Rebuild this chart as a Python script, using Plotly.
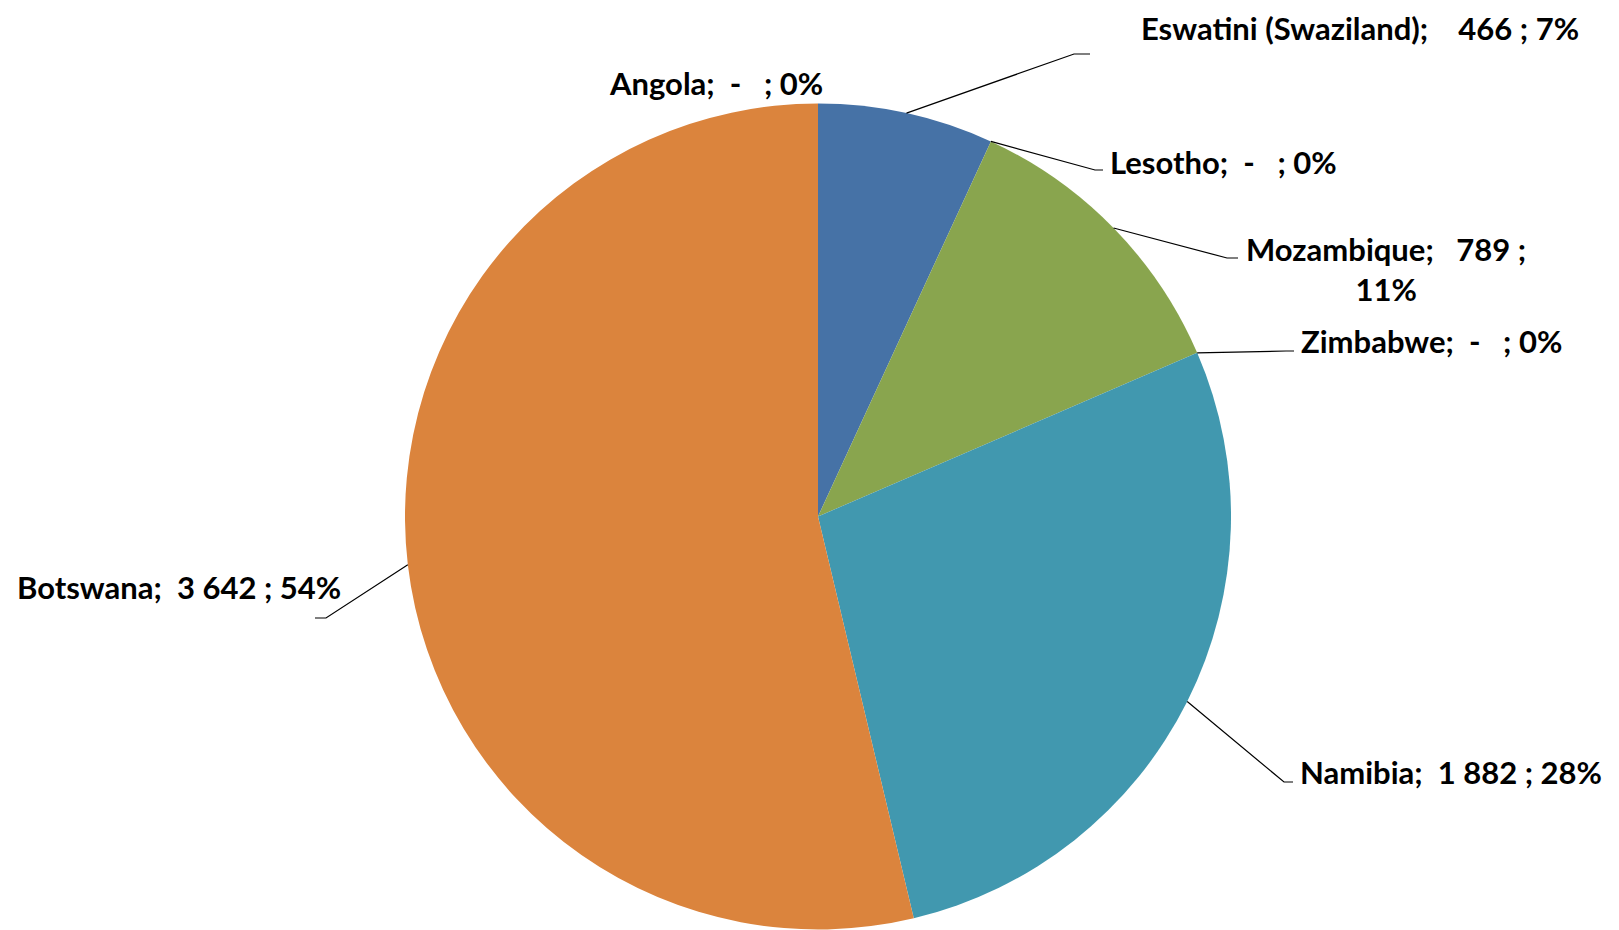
import math
import plotly.graph_objects as go

# ---- data ----
countries = ["Eswatini (Swaziland)", "Lesotho", "Mozambique", "Zimbabwe", "Namibia", "Botswana", "Angola"]
values = [466, 0, 789, 0, 1882, 3642, 0]
value_text = ["466", "-", "789", "-", "1 882", "3 642", "-"]
pct_text = ["7%", "0%", "11%", "0%", "28%", "54%", "0%"]
colors = ["#4672A6", "#89A54E", "#89A54E", "#4198AF", "#4198AF", "#DB843D", "#DB843D"]

W, H = 1619, 930
CX, CY, R = 810, 508.5, 413  # pie centre / radius in pixels

def px(x):
    return x / W

def py(y):
    return 1 - y / H

fig = go.Figure(go.Pie(
    labels=countries, values=values, sort=False, direction="clockwise", rotation=0,
    marker=dict(colors=colors, line=dict(color="white", width=0)),
    textinfo="none", hoverinfo="label+value+percent", showlegend=False,
    domain=dict(x=[px(CX - R), px(CX + R)], y=[py(CY + R), py(CY - R)]),
))

nb = "\u00a0"
texts = [
    f"{countries[0]};{nb*4}{value_text[0]} ; {pct_text[0]}",
    f"{countries[1]};{nb*2}{value_text[1]}{nb*3}; {pct_text[1]}",
    f"{countries[2]};{nb*3}{value_text[2]} ;<br>{pct_text[2]}",
    f"{countries[3]};{nb*2}{value_text[3]}{nb*3}; {pct_text[3]}",
    f"{countries[4]};{nb*2}{value_text[4]} ; {pct_text[4]}",
    f"{countries[5]};{nb*2}{value_text[5]} ; {pct_text[5]}",
    f"{countries[6]};{nb*2}{value_text[6]}{nb*3}; {pct_text[6]}",
]

# label placement (pixels): x, y, xanchor ; elbow point ; end of leader line
label_pos = [
    (1131, 20, "left", (1066, 46), (1082, 46)),
    (1100, 154, "left", (1087, 162), (1095, 162)),
    (1378, 261, "center", (1219, 250), (1230, 250)),
    (1291, 333, "left", (1278, 343), (1286, 343)),
    (1290, 764, "left", (1276, 774), (1285, 774)),
    (7, 579, "left", (318, 610), (307, 610)),
    (599, 75, "left", None, None),
]

total = sum(values)
cum = 0
shapes = []
annotations = []
for i, v in enumerate(values):
    mid = (cum + v / 2) / total * 2 * math.pi
    cum += v
    ax_ = CX + R * math.sin(mid)
    ay_ = CY - R * math.cos(mid)
    x, y, xa, elbow, end = label_pos[i]
    annotations.append(dict(
        text=texts[i], x=px(x), y=py(y), xref="paper", yref="paper",
        xanchor=xa, yanchor="middle", showarrow=False, align="center",
        font=dict(family="Lato", size=31, color="black", weight="bold"),
    ))
    if elbow is not None:
        path = f"M {px(ax_)},{py(ay_)} L {px(elbow[0])},{py(elbow[1])} L {px(end[0])},{py(end[1])}"
        shapes.append(dict(type="path", path=path, xref="paper", yref="paper",
                           line=dict(color="black", width=1.2)))

fig.update_layout(
    width=W, height=H, margin=dict(l=0, r=0, t=0, b=0),
    paper_bgcolor="white", plot_bgcolor="white",
    shapes=shapes, annotations=annotations,
)

fig.write_html("out.html")
